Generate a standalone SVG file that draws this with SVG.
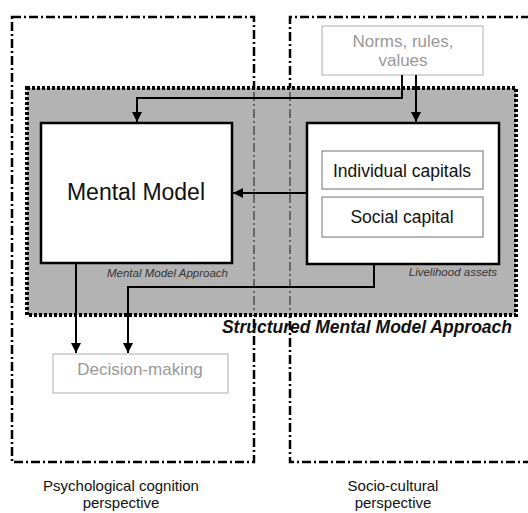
<svg xmlns="http://www.w3.org/2000/svg" width="528" height="513" viewBox="0 0 528 513">
<style>
  .dd { fill: none; stroke: #000; stroke-width: 2.5; stroke-dasharray: 9 3 2 3; }
  .ddg { fill: none; stroke: #666; stroke-width: 2; stroke-dasharray: 9 3 2 3; }
  .box { fill: #fff; stroke: #000; stroke-width: 2.5; }
  .lbox { fill: #fff; stroke: #bbb; stroke-width: 1.2; }
  .ibox { fill: #fff; stroke: #888; stroke-width: 1.2; }
  .conn { fill: none; stroke: #000; stroke-width: 2; }
  text { font-family: "Liberation Sans", Arial, sans-serif; }
  .gt { fill: #999; font-size: 17px; text-anchor: middle; }
  .bt { fill: #111; text-anchor: middle; }
  .it { fill: #333; font-size: 11.5px; font-style: italic; }
</style>
<defs>
  <marker id="ah" viewBox="0 0 10 10" refX="10" refY="5" markerWidth="5" markerHeight="5" orient="auto" markerUnits="strokeWidth">
    <path d="M0,0 L10,5 L0,10 z" fill="#000"/>
  </marker>
</defs>

<g id="perspectives">
  <rect class="dd" x="12" y="17" width="242" height="445"/>
  <path class="dd" d="M530,17 H290 V462 H530"/>
</g>

<g id="smma-region">
  <rect x="27" y="88" width="489" height="227" fill="#b3b3b3" stroke="#000" stroke-width="4" stroke-dasharray="3 2"/>
  <path class="ddg" d="M254,92 V311 M290,92 V311"/>
</g>

<g id="norms">
  <rect class="lbox" x="322" y="26" width="161" height="49"/>
  <text class="gt" x="403" y="47">Norms, rules,</text>
  <text class="gt" x="403" y="66">values</text>
</g>

<g id="mental-model">
  <rect class="box" x="41" y="123" width="191" height="140"/>
  <text class="bt" x="136" y="200" font-size="23">Mental Model</text>
  <text class="it" x="228" y="277" text-anchor="end">Mental Model Approach</text>
</g>

<g id="livelihood">
  <rect class="box" x="307" y="123" width="192" height="141"/>
  <rect class="ibox" x="322" y="151" width="161" height="38"/>
  <text class="bt" x="402" y="177" font-size="17.5">Individual capitals</text>
  <rect class="ibox" x="322" y="197" width="161" height="40"/>
  <text class="bt" x="402" y="223" font-size="17.5">Social capital</text>
  <text class="it" x="497" y="276" text-anchor="end">Livelihood assets</text>
</g>

<g id="decision">
  <rect class="lbox" x="53" y="354" width="175" height="39"/>
  <text class="gt" x="140" y="375" font-size="16.5">Decision-making</text>
</g>

<g id="labels">
  <text x="512" y="333" text-anchor="end" font-size="17.5" font-weight="bold" font-style="italic" fill="#111">Structured Mental Model Approach</text>
  <text class="bt" x="121" y="491" font-size="15">Psychological cognition</text>
  <text class="bt" x="121" y="508" font-size="15">perspective</text>
  <text class="bt" x="393" y="491" font-size="15">Socio-cultural</text>
  <text class="bt" x="393" y="508" font-size="15">perspective</text>
</g>

<g id="connectors">
  <path class="conn" d="M402,75 V98 H137 V122" marker-end="url(#ah)"/>
  <path class="conn" d="M416,75 V122" marker-end="url(#ah)"/>
  <path class="conn" d="M307,193 H233" marker-end="url(#ah)"/>
  <path class="conn" d="M76,264 V353" marker-end="url(#ah)"/>
  <path class="conn" d="M374,265 V287 H128 V353" marker-end="url(#ah)"/>
</g>
</svg>
